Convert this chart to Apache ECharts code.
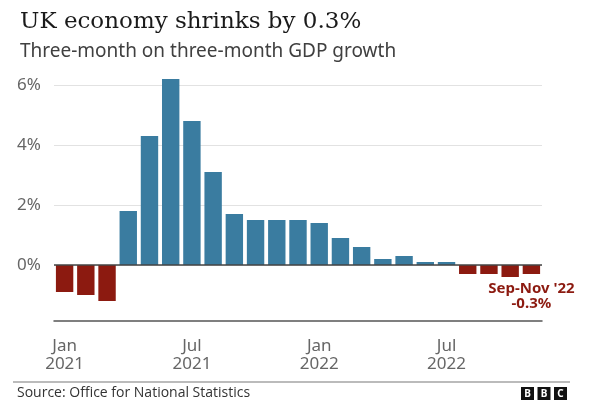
<!DOCTYPE html>
<html><head><meta charset="utf-8">
<script src="https://cdn.jsdelivr.net/npm/echarts@6/dist/echarts.min.js"></script>
<style>html,body{margin:0;padding:0;background:#fff}#c{width:594px;height:410px}</style>
</head><body><div id="c"></div>
<script>
const months = ['Jan 2021','Feb 2021','Mar 2021','Apr 2021','May 2021','Jun 2021','Jul 2021','Aug 2021','Sep 2021','Oct 2021','Nov 2021','Dec 2021',
  'Jan 2022','Feb 2022','Mar 2022','Apr 2022','May 2022','Jun 2022','Jul 2022','Aug 2022','Sep 2022','Oct 2022','Nov 2022'];
const growth = [-0.9,-1.0,-1.2,1.8,4.3,6.2,4.8,3.1,1.7,1.5,1.5,1.5,1.4,0.9,0.6,0.2,0.3,0.1,0.1,-0.3,-0.3,-0.4,-0.3];
const yTicks = [-2,0,2,4,6];
const xTickMonths = ['Jan','Jul'];
const titleText = 'UK economy shrinks by 0.3%';
const subtitleText = 'Three-month on three-month GDP growth';
const sourceText = 'Source: Office for National Statistics';
const annotation = "Sep-Nov '22\n-0.3%";

const BLUE = '#3a7ca0', RED = '#8c1a10';
const chart = echarts.init(document.getElementById('c'), null, {renderer:'canvas'});
const showTick = (i) => xTickMonths.includes(months[i].split(' ')[0]);
const lastIdx = growth.length - 1;
chart.setOption({
  animation:false,
  backgroundColor:'#fff',
  title:[
    {text:titleText,left:15,top:6,textStyle:{fontFamily:'DejaVu Serif',fontSize:23,fontWeight:'normal',color:'#1a1a1a'}},
    {text:subtitleText,left:15,top:37,textStyle:{fontFamily:'Noto Sans',fontSize:19,fontWeight:'normal',color:'#404040'}}
  ],
  grid:{left:54,right:52,top:85,bottom:85,containLabel:false},
  xAxis:{type:'category',data:months,offset:-4,
    axisLine:{onZero:false,lineStyle:{color:'#555',width:1.5}},
    axisTick:{alignWithLabel:true,interval:(i)=>showTick(i),length:6,lineStyle:{color:'#555',width:1.5}},
    axisLabel:{interval:(i)=>showTick(i),formatter:(v)=>v.replace(' ','\n'),color:'#666',fontFamily:'Noto Sans',fontSize:17,lineHeight:18,margin:16},
    splitLine:{show:false}},
  yAxis:{type:'value',min:yTicks[0],max:yTicks[yTicks.length-1],interval:2,
    axisLine:{show:false},axisTick:{show:false},
    axisLabel:{formatter:(v)=>v===yTicks[0]?'':v+'%',color:'#666',fontFamily:'Noto Sans',fontSize:17,align:'left',margin:37},
    splitLine:{lineStyle:{color:['rgba(0,0,0,0)','#e2e2e2','#e2e2e2','#e2e2e2','#e2e2e2'],width:1}}},
  series:[{type:'bar',data:growth.map((v,i)=>i===lastIdx?{value:v,label:{show:true,position:'bottom',distance:7,formatter:annotation,color:RED,fontFamily:'Noto Sans',fontWeight:'bold',fontSize:15,lineHeight:15,align:'center'}}:v),
    barWidth:'82%',clip:false,
    itemStyle:{color:(p)=>p.value<0?RED:BLUE},
    markLine:{silent:true,symbol:'none',label:{show:false},lineStyle:{color:'#444',width:1.5,type:'solid'},data:[{yAxis:0}]}
  }],
  graphic:[
    {type:'line',shape:{x1:13,y1:382,x2:570,y2:382},style:{stroke:'#bbb',lineWidth:2}},
    {type:'text',left:17,top:386,style:{text:sourceText,fontFamily:'Open Sans',fontSize:14,fill:'#333'}},
    {type:'group',left:521,top:387,children:[
      {type:'rect',shape:{x:0,y:0,width:13,height:13},style:{fill:'#111'}},
      {type:'rect',shape:{x:16.5,y:0,width:13,height:13},style:{fill:'#111'}},
      {type:'rect',shape:{x:33,y:0,width:13,height:13},style:{fill:'#111'}},
      {type:'text',x:6.5,y:7,style:{text:'B',fill:'#fff',fontFamily:'Noto Sans',fontWeight:'bold',fontSize:10,align:'center',verticalAlign:'middle'}},
      {type:'text',x:23,y:7,style:{text:'B',fill:'#fff',fontFamily:'Noto Sans',fontWeight:'bold',fontSize:10,align:'center',verticalAlign:'middle'}},
      {type:'text',x:39.5,y:7,style:{text:'C',fill:'#fff',fontFamily:'Noto Sans',fontWeight:'bold',fontSize:10,align:'center',verticalAlign:'middle'}}
    ]}
  ]
});
</script></body></html>
